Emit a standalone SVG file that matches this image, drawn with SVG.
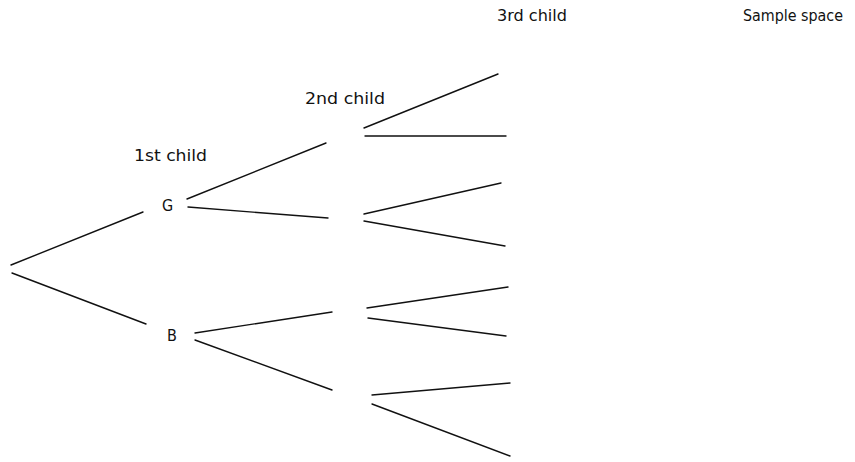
<svg xmlns="http://www.w3.org/2000/svg" width="855" height="462" viewBox="0 0 855 462">
<style>
.t{font-family:"DejaVu Sans Condensed","DejaVu Sans","Liberation Sans",sans-serif;font-size:16px;fill:#111}
.c line{stroke:#111;stroke-width:1.4;stroke-linecap:round}
</style>
<rect width="855" height="462" fill="#fff"/>
<g id="headers">
<text class="t" x="497" y="21" textLength="70" lengthAdjust="spacingAndGlyphs">3rd child</text>
<text class="t" x="743" y="21" textLength="100" lengthAdjust="spacingAndGlyphs">Sample space</text>
<text class="t" x="305" y="104" textLength="80" lengthAdjust="spacingAndGlyphs">2nd child</text>
<text class="t" x="134" y="161" textLength="73" lengthAdjust="spacingAndGlyphs">1st child</text>
</g>
<g id="node-G"><text class="t" x="162" y="211">G</text></g>
<g id="node-B"><text class="t" x="167" y="341">B</text></g>
<g id="connectors" class="c">
<line x1="11" y1="265" x2="143" y2="212"/>
<line x1="12" y1="273" x2="146" y2="324"/>
<line x1="187" y1="199" x2="326" y2="143"/>
<line x1="188" y1="207" x2="328" y2="218"/>
<line x1="195" y1="333" x2="332" y2="312"/>
<line x1="195" y1="340" x2="332" y2="390"/>
<line x1="364" y1="128" x2="498" y2="74"/>
<line x1="365" y1="136" x2="506" y2="136"/>
<line x1="364" y1="214" x2="501" y2="183"/>
<line x1="364" y1="221" x2="505" y2="246"/>
<line x1="367" y1="308" x2="508" y2="287"/>
<line x1="368" y1="318" x2="506" y2="336"/>
<line x1="372" y1="395" x2="510" y2="383"/>
<line x1="372" y1="404" x2="510" y2="456"/>
</g>
</svg>
